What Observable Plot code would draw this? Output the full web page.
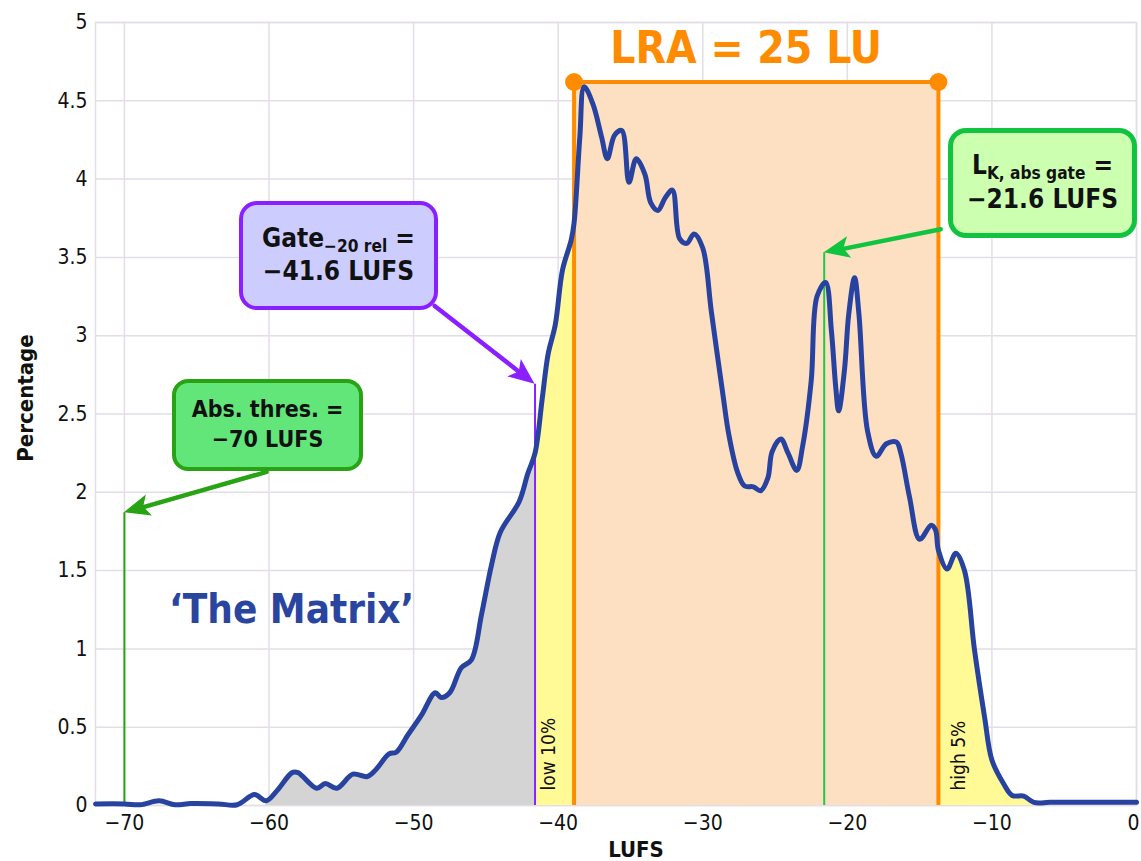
<!DOCTYPE html>
<html><head><meta charset="utf-8">
<script src="https://cdn.jsdelivr.net/npm/d3@7"></script>
<script src="https://cdn.jsdelivr.net/npm/@observablehq/plot@0.6"></script>
<style>
body{margin:0;background:#fff;}
#wrap{position:relative;width:1141px;height:861px;font-family:"DejaVu Sans Condensed","DejaVu Sans",sans-serif;font-stretch:condensed;}
.box{position:absolute;box-sizing:border-box;border-style:solid;display:flex;flex-direction:column;align-items:center;justify-content:center;font-weight:bold;color:#111;text-align:center;line-height:1.3;}
.box sub{font-size:0.66em;vertical-align:-0.28em;line-height:0;}
</style></head><body><div id="wrap"></div>
<script>
// Loudness histogram of 'The Matrix' (LUFS vs percentage)
const lufs = [-72,-70,-68.9,-67.6,-66.5,-65.4,-63.5,-62.2,-61.0,-60.2,-59.4,-58.4,-58.0,-56.7,-56.1,-55.3,-54.2,-53.2,-52.6,-51.7,-51.2,-50.4,-49.5,-48.5,-48.1,-47.5,-46.7,-46.0,-45.3,-44.6,-44.0,-42.7,-42.1,-41.6,-41.1,-40.7,-40.2,-39.7,-39.1,-38.9,-38.5,-38.2,-37.6,-37.0,-36.6,-36.1,-35.6,-35.1,-34.6,-34.0,-33.6,-33.1,-32.6,-32.1,-31.6,-31.1,-30.6,-30.0,-29.4,-28.6,-28.2,-27.6,-27.1,-26.5,-26.0,-25.5,-25.2,-24.6,-24.1,-23.5,-23.1,-22.5,-22.1,-21.5,-21.1,-20.8,-20.6,-20.2,-19.9,-19.5,-19.2,-18.6,-18.0,-17.3,-16.6,-16.3,-15.7,-15.0,-14.2,-13.9,-13.7,-13.1,-12.5,-11.9,-11.2,-10.5,-10.0,-9.2,-8.6,-7.8,-7.1,-6.0,-4.5,-3.0,-1.5,0];
const pct = [0.01,0.01,0.005,0.03,0.005,0.012,0.01,0.005,0.07,0.03,0.10,0.21,0.21,0.11,0.14,0.11,0.20,0.185,0.23,0.33,0.34,0.45,0.57,0.72,0.69,0.72,0.88,0.93,1.22,1.54,1.745,1.94,2.12,2.25,2.6,2.88,3.07,3.42,3.61,3.72,4.27,4.59,4.48,4.27,4.13,4.28,4.31,3.98,4.13,4.03,3.85,3.80,3.88,3.93,3.62,3.59,3.65,3.56,3.15,2.62,2.37,2.13,2.04,2.035,2.01,2.09,2.26,2.34,2.25,2.14,2.29,2.71,3.25,3.34,3.03,2.67,2.52,2.78,3.14,3.37,3.14,2.39,2.23,2.31,2.32,2.25,1.97,1.70,1.79,1.76,1.63,1.51,1.61,1.50,0.99,0.56,0.29,0.14,0.064,0.06,0.02,0.02,0.02,0.02,0.02,0.02];

const xTicks = [-70,-60,-50,-40,-30,-20,-10,0];
const yTicks = [0,0.5,1,1.5,2,2.5,3,3.5,4,4.5,5];

// key loudness values (LUFS)
const absThres = -70, gateRel = -41.6, lkAbsGate = -21.6;
const lraLow = -38.9, lraHigh = -13.7, grayStart = -60.2, highEnd = -7.1;
// marker heights (percentage)
const absMarkTop = 1.87, gateMarkTop = 2.69, lkMarkTop = 3.53, lraBarTop = 4.62;

const data = lufs.map((x, i) => ({x, y: pct[i]}));
const between = (a, b) => data.filter(d => d.x >= a && d.x <= b);

const arrows = [
  {x1: -60.17, y1: 2.13, x2: absThres, y2: absMarkTop, c: "#27a314"},
  {x1: -48.54, y1: 3.19, x2: gateRel, y2: gateMarkTop, c: "#8a20ff"},
  {x1: -13.54, y1: 3.68, x2: lkAbsGate, y2: lkMarkTop, c: "#10c440"}
];
const labels = [
  {x: -58.44, y: 1.245, t: "\u2018The Matrix\u2019", c: "#2a45a0", s: 40, w: "bold", r: 0, a: "middle"},
  {x: -27.0, y: 4.83, t: "LRA = 25 LU", c: "#ff8c00", s: 44, w: "bold", r: 0, a: "middle"},
  {x: -40.62, y: 0.096, t: "low 10%", c: "#111", s: 19, w: "normal", r: -90, a: "start"},
  {x: -12.3, y: 0.096, t: "high 5%", c: "#111", s: 19, w: "normal", r: -90, a: "start"}
];

const grid = {stroke: "#e3dde7", strokeOpacity: 1, strokeWidth: 1.5};
const font = '"DejaVu Sans Condensed","DejaVu Sans",sans-serif';
const curve = "catmull-rom";

const chart = Plot.plot({
  width: 1141, height: 861,
  marginLeft: 95, marginRight: 5, marginTop: 22, marginBottom: 56,
  x: {domain: [-72, 0], label: null},
  y: {domain: [0, 5], label: null},
  style: {fontFamily: font, fontSize: "21px", color: "#111", background: "white", fontStretch: "condensed"},
  marks: [
    Plot.gridX(xTicks, grid),
    Plot.gridY(yTicks, grid),
    Plot.frame({stroke: "#e3dde7", strokeWidth: 1.5}),
    Plot.areaY(between(grayStart, gateRel), {x: "x", y: "y", fill: "#d4d4d4", curve}),
    Plot.areaY(between(gateRel, lraLow), {x: "x", y: "y", fill: "#fffa96", curve}),
    Plot.areaY(between(lraHigh, highEnd), {x: "x", y: "y", fill: "#fffa96", curve}),
    Plot.rect([{x1: lraLow, x2: lraHigh}], {x1: "x1", x2: "x2", y1: 0, y2: lraBarTop, fill: "#fde0c2"}),
    Plot.ruleX([absThres], {y1: 0, y2: absMarkTop, stroke: "#27a314", strokeWidth: 2}),
    Plot.ruleX([gateRel], {y1: 0, y2: gateMarkTop, stroke: "#8a20ff", strokeWidth: 2}),
    Plot.ruleX([lkAbsGate], {y1: 0, y2: lkMarkTop, stroke: "#1ec84a", strokeWidth: 2}),
    Plot.ruleX([lraLow, lraHigh], {y1: 0, y2: lraBarTop, stroke: "#ff8c00", strokeWidth: 4}),
    Plot.ruleY([lraBarTop], {x1: lraLow, x2: lraHigh, stroke: "#ff8c00", strokeWidth: 4}),
    Plot.dot([lraLow, lraHigh], {x: d => d, y: () => lraBarTop, r: 9, fill: "#ff8c00", stroke: "none"}),
    Plot.line(data, {x: "x", y: "y", stroke: "#2842a0", strokeWidth: 5, strokeLinejoin: "round", strokeLinecap: "round", curve}),
    Plot.arrow(arrows, {x1: "x1", y1: "y1", x2: "x2", y2: "y2", stroke: "c", strokeWidth: 4.5, headLength: 0, insetEnd: 18}),
    ...labels.map(l => Plot.text([l], {x: "x", y: "y", text: "t", fill: l.c, fontSize: l.s, fontWeight: l.w, rotate: l.r, textAnchor: l.a})),
    Plot.axisX(xTicks.filter(d => d !== 0), {tickSize: 0, tickPadding: 10, fontSize: 21, label: null}),
    Plot.axisX([0], {tickSize: 0, tickPadding: 10, fontSize: 21, label: null, dx: -3}),
    Plot.axisY(yTicks, {tickSize: 0, tickPadding: 8, fontSize: 21, label: null, tickFormat: d => String(d)}),
    Plot.text(["Percentage"], {frameAnchor: "left", dx: -70, dy: -16, rotate: -90, textAnchor: "middle", lineAnchor: "middle", fontSize: 22, fontWeight: "bold", fill: "#111"}),
    Plot.text(["LUFS"], {frameAnchor: "bottom", dx: 20, dy: 44, textAnchor: "middle", lineAnchor: "middle", fontSize: 22, fontWeight: "bold", fill: "#111"})
  ]
});

const wrap = document.getElementById("wrap");
wrap.appendChild(chart);

const sx = chart.scale("x"), sy = chart.scale("y");

// filled arrowheads placed through the chart's scales
const svg = d3.select(chart);
for (const a of arrows) {
  const X1 = sx.apply(a.x1), Y1 = sy.apply(a.y1), X2 = sx.apply(a.x2), Y2 = sy.apply(a.y2);
  const ang = Math.atan2(Y2 - Y1, X2 - X1);
  const L = 26, W = 11, N = 6;
  const ux = Math.cos(ang), uy = Math.sin(ang), px = -uy, py = ux;
  const pts = [[X2, Y2], [X2 - L * ux + W * px, Y2 - L * uy + W * py], [X2 - (L - N) * ux, Y2 - (L - N) * uy], [X2 - L * ux - W * px, Y2 - L * uy - W * py]];
  svg.append("path").attr("d", "M" + pts.map(p => p.join(",")).join("L") + "Z").attr("fill", a.c);
}

const boxes = [
  {x1: -62.03, x2: -48.29, y1: 3.857, y2: 3.161, bg: "#ccccff", bd: "#8a20ff", fs: 26, bw: 4.5, rad: 18,
   html: "<div>Gate<sub>\u221220 rel</sub> =</div><div>\u221241.6 LUFS</div>"},
  {x1: -66.66, x2: -53.47, y1: 2.72, y2: 2.133, bg: "#62e67a", bd: "#27a314", fs: 23, bw: 4.5, rad: 16,
   html: "<div>Abs. thres. =</div><div>\u221270 LUFS</div>"},
  {x1: -12.99, x2: 0.07, y1: 4.323, y2: 3.621, bg: "#ccffb0", bd: "#10c440", fs: 26, bw: 5, rad: 18,
   html: "<div>L<sub>K, abs gate</sub> =</div><div>\u221221.6 LUFS</div>"}
];
for (const b of boxes) {
  const d = document.createElement("div");
  d.className = "box";
  const l = sx.apply(b.x1), r = sx.apply(b.x2), t = sy.apply(b.y1), bt = sy.apply(b.y2);
  Object.assign(d.style, {left: l + "px", top: t + "px", width: (r - l) + "px", height: (bt - t) + "px",
    background: b.bg, borderColor: b.bd, borderWidth: b.bw + "px", borderRadius: b.rad + "px", fontSize: b.fs + "px"});
  d.innerHTML = b.html;
  wrap.appendChild(d);
}
</script>
</body></html>
